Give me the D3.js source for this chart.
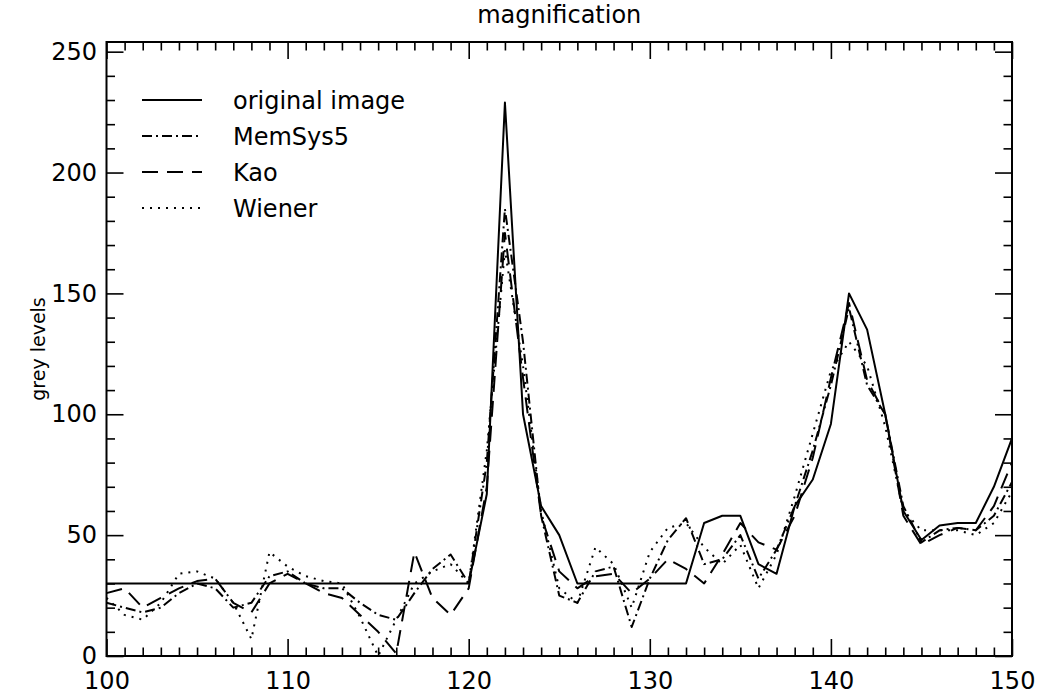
<!DOCTYPE html>
<html>
<head>
<meta charset="utf-8">
<script src="https://cdn.jsdelivr.net/npm/d3@7"></script>
<style>
  html, body { margin: 0; padding: 0; background: #fff; }
  svg { display: block; }
  text { font-family: "DejaVu Sans", sans-serif; fill: #000; }
</style>
</head>
<body>
<svg id="chart" width="1041" height="695"></svg>
<script>
// ---- data ----
const xValues = d3.range(100, 151);
const originalImage = [30,30,30,30,30,30,30,30,30,30,30,30,30,30,30,30,30,30,30,30,30,
  67,229,100,62,50,30,30,30,30,30,30,30,55,58,58,38,34,62,73,96,150,135,100,60,48,54,55,55,70,90];
const memSys5 = [22,20,18,20,26,30,28,20,22,33,35,30,28,28,22,17,15,26,36,42,30,
  80,185,130,58,25,22,35,37,12,32,48,57,38,40,50,32,44,62,85,112,144,112,100,62,47,52,53,52,58,72];
const kao = [26,28,20,24,28,31,32,22,18,30,34,30,26,24,17,10,1,43,24,17,28,
  70,175,115,58,35,28,33,34,26,32,40,36,30,42,55,47,44,58,82,115,146,114,100,58,46,50,53,52,62,80];
const wiener = [24,17,15,22,34,35,32,22,7,43,37,33,31,30,16,0,15,30,35,38,30,
  85,168,120,60,28,22,45,38,20,43,53,55,45,38,46,28,42,66,92,118,130,120,95,60,52,52,52,50,55,68];
const seriesNames = ["original image", "MemSys5", "Kao", "Wiener"];
const xTicks = [100, 110, 120, 130, 140, 150];
const yTicks = [0, 50, 100, 150, 200, 250];
const title = "magnification";
const yLabel = "grey levels";

// ---- layout ----
const svg = d3.select("#chart");
const L = 106.5, R = 1012, T = 42, B = 656;
const x = d3.scaleLinear().domain([100, 150]).range([L, R]);
const y = d3.scaleLinear().domain([0, 254]).range([B, T]);

const dashes = ["none", "10,4,2,4", "16,9", "2,6"];
const allSeries = [originalImage, memSys5, kao, wiener];

// data lines (clipped)
svg.append("defs").append("clipPath").attr("id", "clip")
  .append("rect").attr("x", L).attr("y", T).attr("width", R - L).attr("height", B - T);
const line = d3.line().x((d, i) => x(xValues[i])).y(d => y(d));
const g = svg.append("g").attr("clip-path", "url(#clip)");
allSeries.forEach((s, i) => {
  g.append("path").datum(s)
    .attr("d", line)
    .attr("fill", "none")
    .attr("stroke", "#000")
    .attr("stroke-width", 2)
    .attr("stroke-linejoin", "round")
    .attr("stroke-dasharray", dashes[i]);
});

// axes
const fs = 24;
const minorX = d3.range(100, 151, 1).filter(v => v % 10 !== 0);
const minorY = d3.range(0, 251, 10).filter(v => v % 50 !== 0);
function styleAxis(sel) {
  sel.select(".domain").remove();
  sel.selectAll("line").attr("stroke", "#000").attr("stroke-width", 1.6);
  sel.selectAll("text").style("font-size", fs + "px").style("font-family", "'DejaVu Sans', sans-serif").attr("fill", "#000");
}
// bottom
svg.append("g").attr("transform", `translate(0,${B})`)
  .call(d3.axisBottom(x).tickValues(xTicks).tickSize(-17).tickPadding(16).tickFormat(d3.format("d")))
  .call(styleAxis);
svg.append("g").attr("transform", `translate(0,${B})`)
  .call(d3.axisBottom(x).tickValues(minorX).tickSize(-8.5).tickFormat(""))
  .call(styleAxis);
// top
svg.append("g").attr("transform", `translate(0,${T})`)
  .call(d3.axisTop(x).tickValues(xTicks).tickSize(-17).tickFormat(""))
  .call(styleAxis);
svg.append("g").attr("transform", `translate(0,${T})`)
  .call(d3.axisTop(x).tickValues(minorX).tickSize(-8.5).tickFormat(""))
  .call(styleAxis);
// left
svg.append("g").attr("transform", `translate(${L},0)`)
  .call(d3.axisLeft(y).tickValues(yTicks).tickSize(-17).tickPadding(9.5).tickFormat(d3.format("d")))
  .call(styleAxis);
svg.append("g").attr("transform", `translate(${L},0)`)
  .call(d3.axisLeft(y).tickValues(minorY).tickSize(-8.5).tickFormat(""))
  .call(styleAxis);
// right
svg.append("g").attr("transform", `translate(${R},0)`)
  .call(d3.axisRight(y).tickValues(yTicks).tickSize(-17).tickFormat(""))
  .call(styleAxis);
svg.append("g").attr("transform", `translate(${R},0)`)
  .call(d3.axisRight(y).tickValues(minorY).tickSize(-8.5).tickFormat(""))
  .call(styleAxis);

// frame
svg.append("rect").attr("x", L).attr("y", T).attr("width", R - L).attr("height", B - T)
  .attr("fill", "none").attr("stroke", "#000").attr("stroke-width", 2);

// title
svg.append("text").attr("x", (L + R) / 2).attr("y", 23)
  .attr("text-anchor", "middle").style("font-size", "24px").text(title);

// y label
svg.append("text").attr("transform", `translate(45,${(T + B) / 2}) rotate(-90)`)
  .attr("text-anchor", "middle").style("font-size", "19px").text(yLabel);

// legend
const legendRows = [100, 136, 172, 208];
const lg = svg.append("g");
seriesNames.forEach((name, i) => {
  lg.append("line").attr("x1", 142).attr("x2", 202)
    .attr("y1", legendRows[i]).attr("y2", legendRows[i])
    .attr("stroke", "#000").attr("stroke-width", 2)
    .attr("stroke-dasharray", dashes[i]);
  lg.append("text").attr("x", 233).attr("y", legendRows[i] + 9)
    .style("font-size", "24px").text(name);
});
</script>
</body>
</html>
